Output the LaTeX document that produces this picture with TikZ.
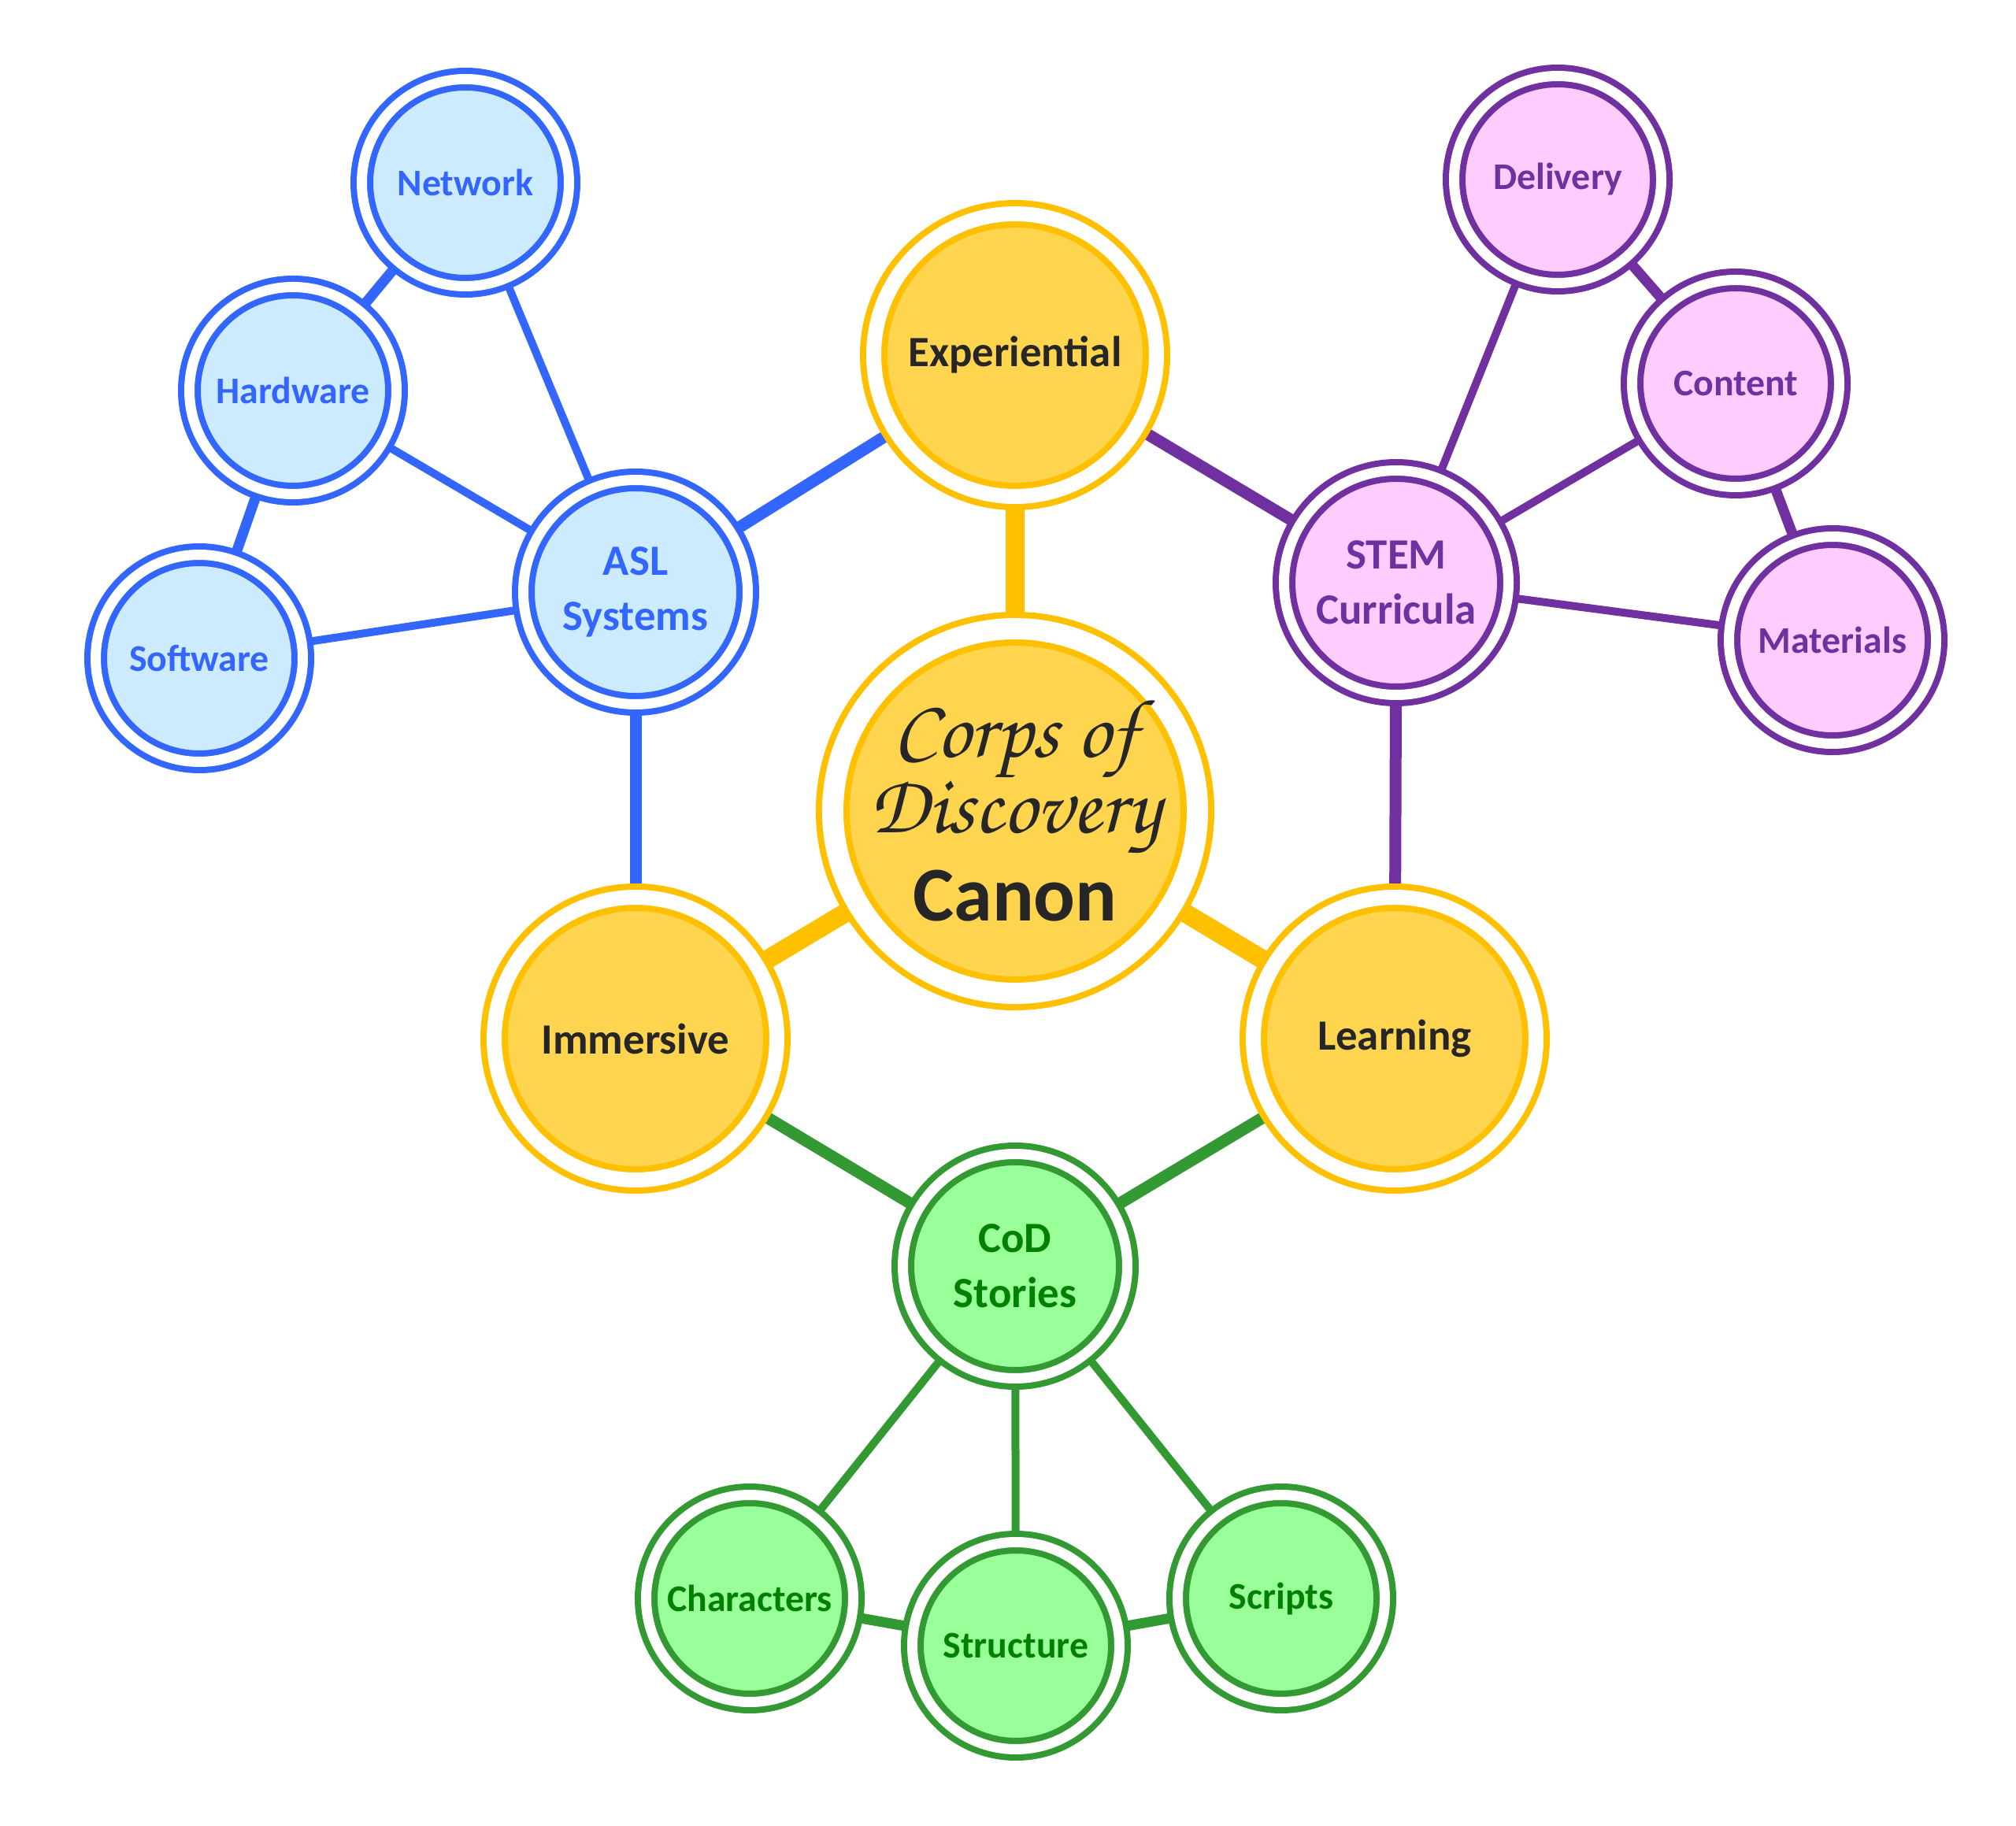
\documentclass[tikz,border=0pt]{standalone}
\usepackage{fontspec}
\setmainfont{Carlito}
\newfontfamily\chorusfont{texgyrechorus-mediumitalic.otf}
\usetikzlibrary{backgrounds}

\definecolor{gold}{HTML}{FFC000}
\definecolor{goldfill}{HTML}{FFD54F}
\definecolor{darktext}{HTML}{262626}
\definecolor{aslblue}{HTML}{3366FF}
\definecolor{aslfill}{HTML}{CCEBFF}
\definecolor{stempurple}{HTML}{7030A0}
\definecolor{stemfill}{HTML}{FFCCFF}
\definecolor{codgreen}{HTML}{339933}
\definecolor{codfill}{HTML}{99FF99}
\definecolor{codtext}{HTML}{008000}

\begin{document}
\begin{tikzpicture}[bubble/.style={circle,line width=0.08cm,double=white,inner sep=0pt,align=center},
                    canonbox/.style={bubble,draw=gold,fill=goldfill,text=darktext,double distance=0.27cm,
                                     minimum size=4.47cm,font=\bfseries\fontsize{28}{27.3}\selectfont},
                    hub/.style={bubble,draw=gold,fill=goldfill,text=darktext,double distance=0.19cm,
                                minimum size=3.59cm,font=\bfseries\fontsize{15.6}{20}\selectfont},
                    branch/.style={bubble,double distance=0.13cm,minimum size=2.85cm,
                                   font=\bfseries\fontsize{15.6}{20}\selectfont},
                    leaf/.style={bubble,double distance=0.13cm,minimum size=2.63cm,
                                 font=\bfseries\fontsize{13.6}{17}\selectfont},
                    asl/.style={draw=aslblue,fill=aslfill,text=aslblue},
                    stem/.style={draw=stempurple,fill=stemfill,text=stempurple},
                    cod/.style={draw=codgreen,fill=codfill,text=codtext},
                    goldlink/.style={draw=gold,line width=0.24cm},
                    mainlink/.style={line width=0.15cm},
                    sublink/.style={line width=0.10cm},
                    siblink/.style={line width=0.13cm}]

  \useasboundingbox (0,0) rectangle (25.6,-23.19);

  % centre and the three hubs
  \node[canonbox] (canon) at (12.89,-10.30)
       {{\chorusfont\fontsize{30}{27.3}\selectfont Corps of}\\
        {\chorusfont\fontsize{30}{27.3}\selectfont Discovery}\\[4.6pt]Canon};
  \node[hub] (exp)   at (12.89,-4.51)  {Experiential};
  \node[hub] (imm)   at (8.07,-13.19)  {Immersive};
  \node[hub] (learn) at (17.71,-13.19) {Learning};

  % ASL branch
  \node[branch,asl] (aslsys) at (8.07,-7.52) {ASL\\Systems};
  \node[leaf,asl]   (net)    at (5.91,-2.32) {Network};
  \node[leaf,asl]   (hard)   at (3.72,-4.96) {Hardware};
  \node[leaf,asl]   (soft)   at (2.53,-8.36) {Software};

  % STEM branch
  \node[branch,stem] (stemcur) at (17.73,-7.40) {STEM\\Curricula};
  \node[leaf,stem]   (deliv)   at (19.78,-2.28) {Delivery};
  \node[leaf,stem]   (content) at (22.04,-4.87) {Content};
  \node[leaf,stem]   (mater)   at (23.27,-8.13) {Materials};

  % CoD branch
  \node[branch,cod] (codst)   at (12.89,-16.08) {CoD\\Stories};
  \node[leaf,cod]   (chars)   at (9.52,-20.30)  {Characters};
  \node[leaf,cod]   (struct)  at (12.90,-20.90) {Structure};
  \node[leaf,cod]   (scripts) at (16.27,-20.30) {Scripts};

  \begin{pgfonlayer}{background}
    \path[goldlink] (canon) edge (exp)
                    (canon) edge (imm)
                    (canon) edge (learn);

    \path[draw=aslblue,mainlink] (exp) edge (aslsys)
                                 (aslsys) edge (imm);
    \path[draw=aslblue,sublink]  (aslsys) edge (net)
                                 (aslsys) edge (hard)
                                 (aslsys) edge (soft);
    \path[draw=aslblue,siblink]  (hard) edge (net)
                                 (hard) edge (soft);

    \path[draw=stempurple,mainlink] (exp) edge (stemcur)
                                    (stemcur) edge (learn);
    \path[draw=stempurple,sublink]  (stemcur) edge (deliv)
                                    (stemcur) edge (content)
                                    (stemcur) edge (mater);
    \path[draw=stempurple,siblink]  (deliv) edge (content)
                                    (content) edge (mater);

    \path[draw=codgreen,mainlink] (imm) edge (codst)
                                  (learn) edge (codst);
    \path[draw=codgreen,sublink]  (codst) edge (chars)
                                  (codst) edge (struct)
                                  (codst) edge (scripts);
    \path[draw=codgreen,siblink]  (chars) edge (struct)
                                  (struct) edge (scripts);
  \end{pgfonlayer}
\end{tikzpicture}
\end{document}
